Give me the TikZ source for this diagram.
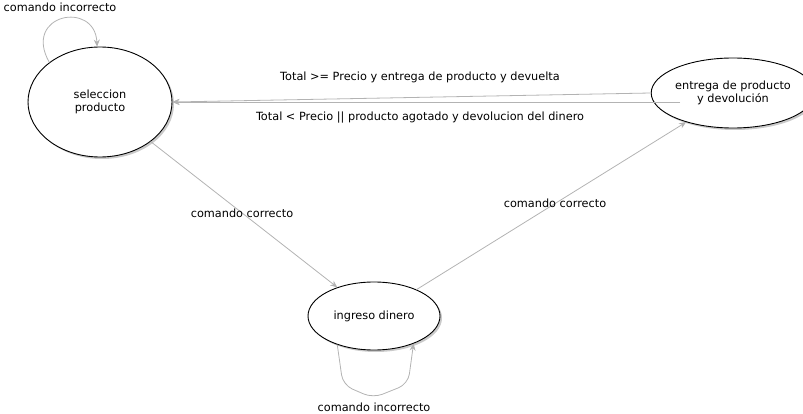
\documentclass[tikz,border=0pt]{standalone}
\usepackage{fontspec}
\setmainfont{DejaVu Sans}
\usetikzlibrary{shapes.geometric,arrows.meta,shadows}
\definecolor{edgegray}{HTML}{B3B3B3}
\tikzset{
  state/.style={ellipse, draw=black, line width=0.9pt, fill=white, inner sep=0pt, align=center,
    font=\fontsize{11.3}{13.5}\selectfont,
    drop shadow={shadow xshift=2pt, shadow yshift=-2pt, fill=black!35, opacity=0.6}},
  edge/.style={draw=edgegray, line width=0.8pt, -{Stealth[length=7pt,width=6pt]}},
  lbl/.style={font=\fontsize{11.3}{13.5}\selectfont, inner sep=0pt}
}
\begin{document}
\begin{tikzpicture}[x=1pt,y=-1pt]
\useasboundingbox (0,0) rectangle (803,414);
\node[state, minimum width=144pt, minimum height=110pt] (s) at (100,102) {seleccion\\producto};
\node[state, minimum width=128pt, minimum height=70pt] (e) at (733,93) {entrega de producto\\y devolución};
\node[state, minimum width=132pt, minimum height=68pt] (i) at (374,316) {ingreso dinero};
\coordinate (eb) at (680,102);
% edges
\draw[edge] (s) -- (i);
\draw[edge] (i) -- (e);
\draw[edge] (e.west) -- (s.east);
\draw[edge] (eb) -- (s.east);
\draw[edge] (s.142) .. controls (22,14) and (95,0) .. (s.93);
\draw[edge, rounded corners=10pt] (i.218) -- (343,385) -- (373,398) -- (408,384) -- (i.325);
% labels
\node[lbl] (l1) at (60,7) {comando incorrecto};
\node[lbl] (l2) at (420,77) {Total >= Precio y entrega de producto y devuelta};
\node[lbl] (l3) at (420,118) {Total < Precio || producto agotado y devolucion del dinero};
\node[lbl] (l4) at (242,213) {comando correcto};
\node[lbl] (l5) at (555,203) {comando correcto};
\node[lbl] (l6) at (374,407) {comando incorrecto};
\end{tikzpicture}
\end{document}
